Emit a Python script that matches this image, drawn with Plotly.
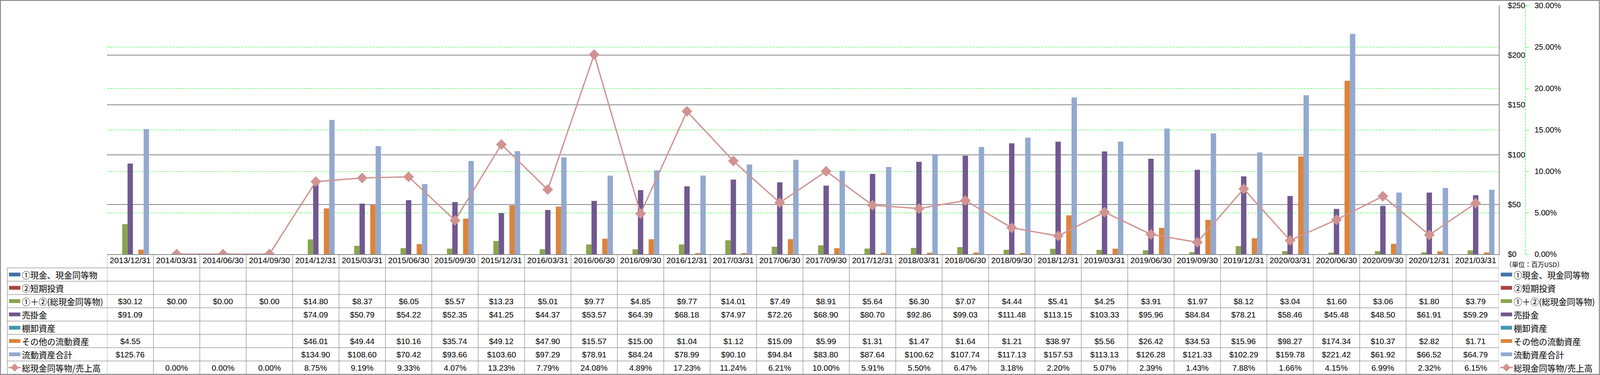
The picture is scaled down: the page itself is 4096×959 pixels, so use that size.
import plotly.graph_objects as go

# ---------------- data ----------------
dates = ["2013/12/31", "2014/03/31", "2014/06/30", "2014/09/30", "2014/12/31",
         "2015/03/31", "2015/06/30", "2015/09/30", "2015/12/31",
         "2016/03/31", "2016/06/30", "2016/09/30", "2016/12/31",
         "2017/03/31", "2017/06/30", "2017/09/30", "2017/12/31",
         "2018/03/31", "2018/06/30", "2018/09/30", "2018/12/31",
         "2019/03/31", "2019/06/30", "2019/09/30", "2019/12/31",
         "2020/03/31", "2020/06/30", "2020/09/30", "2020/12/31", "2021/03/31"]
N = None
cash = [N] * 30
short_inv = [N] * 30
total_cash = [30.12, 0.00, 0.00, 0.00, 14.80, 8.37, 6.05, 5.57, 13.23, 5.01,
              9.77, 4.85, 9.77, 14.01, 7.49, 8.91, 5.64, 6.30, 7.07, 4.44,
              5.41, 4.25, 3.91, 1.97, 8.12, 3.04, 1.60, 3.06, 1.80, 3.79]
receivables = [91.09, N, N, N, 74.09, 50.79, 54.22, 52.35, 41.25, 44.37,
               53.57, 64.39, 68.18, 74.97, 72.26, 68.90, 80.70, 92.86, 99.03, 111.48,
               113.15, 103.33, 95.96, 84.84, 78.21, 58.46, 45.48, 48.50, 61.91, 59.29]
inventory = [N] * 30
other_ca = [4.55, N, N, N, 46.01, 49.44, 10.16, 35.74, 49.12, 47.90,
            15.57, 15.00, 1.04, 1.12, 15.09, 5.99, 1.31, 1.47, 1.64, 1.21,
            38.97, 5.56, 26.42, 34.53, 15.96, 98.27, 174.34, 10.37, 2.82, 1.71]
total_ca = [125.76, N, N, N, 134.90, 108.60, 70.42, 93.66, 103.60, 97.29,
            78.91, 84.24, 78.99, 90.10, 94.84, 83.80, 87.64, 100.62, 107.74, 117.13,
            157.53, 113.13, 126.28, 121.33, 102.29, 159.78, 221.42, 61.92, 66.52, 64.79]
cash_sales_pct = [N, 0.00, 0.00, 0.00, 8.75, 9.19, 9.33, 4.07, 13.23, 7.79,
                  24.08, 4.89, 17.23, 11.24, 6.21, 10.00, 5.91, 5.50, 6.47, 3.18,
                  2.20, 5.07, 2.39, 1.43, 7.88, 1.66, 4.15, 6.99, 2.32, 6.15]

names = ["①現金、現金同等物", "②短期投資", "①＋②(総現金同等物)", "売掛金",
         "棚卸資産", "その他の流動資産", "流動資産合計", "総現金同等物/売上高"]
colors = ["#4572A7", "#AA4643", "#89A54E", "#71588F", "#4198AF", "#DB843D", "#93A9CF", "#D19392"]
unit_label = "（単位：百万USD）"

# ---------------- geometry (reference px -> figure) ----------------
FW, FH = 4096, 959
S = FW / 5492
X_L, X_R, X_Y2 = 367.5, 5145.5, 5236.5
Y_T, Y_B = 19.0, 872.0
HEAD_BOT, ROW_H = 919.0, 45.6
GRAY = "#878787"
NUMFONT = "Liberation Sans"
JPFONT = "Noto Sans CJK JP"


def px(X):
    return (X - X_L) / (X_Y2 - X_L)


def py(Y):
    return (Y_B - Y) / (Y_B - Y_T)


def row_c(k):
    return HEAD_BOT + ROW_H * (k + 0.5)


fig = go.Figure()

bar_data = [cash, short_inv, total_cash, receivables, inventory, other_ca, total_ca]
for nm, vals, col in zip(names[:7], bar_data, colors[:7]):
    fig.add_bar(x=dates, y=vals, name=nm, marker=dict(color=col, line=dict(width=0)))

fig.add_scatter(x=dates, y=[None if v is None else v / 100 for v in cash_sales_pct],
                name=names[7], yaxis="y2", mode="lines+markers",
                line=dict(color=colors[7], width=3.4),
                marker=dict(symbol="diamond", size=21, color=colors[7]))

shapes = []
annos = []

# outer border
shapes.append(dict(type="rect", xref="paper", yref="paper",
                   x0=px(1.5), x1=px(5490.5), y0=py(1.5), y1=py(1284.5),
                   line=dict(color=GRAY, width=2.4), layer="above"))
# secondary axis dashed line
shapes.append(dict(type="line", xref="paper", yref="y2", x0=1, x1=1, y0=0, y1=0.30,
                   line=dict(color="#00FF00", width=1.2, dash="5px,3px")))
# table horizontal lines
for k in range(8):
    Y = HEAD_BOT + ROW_H * k
    shapes.append(dict(type="line", xref="paper", yref="paper",
                       x0=px(25), x1=px(X_R), y0=py(Y), y1=py(Y),
                       line=dict(color=GRAY, width=1.2)))
# left legend column border
shapes.append(dict(type="line", xref="paper", yref="paper",
                   x0=px(25), x1=px(25), y0=py(HEAD_BOT), y1=py(1284.5),
                   line=dict(color=GRAY, width=1.2)))
# column dividers (on the category axis)
for i in range(len(dates) + 1):
    shapes.append(dict(type="line", xref="x", yref="paper",
                       x0=i - 0.5, x1=i - 0.5, y0=py(Y_B), y1=py(1284.5),
                       line=dict(color=GRAY, width=1.2)))

# table values
row_vals = [cash, short_inv, total_cash, receivables, inventory, other_ca, total_ca, cash_sales_pct]
for k, vals in enumerate(row_vals):
    for d, v in zip(dates, vals):
        if v is None:
            continue
        txt = f"{v:.2f}%" if k == 7 else f"${v:,.2f}"
        annos.append(dict(x=d, xref="x", y=py(row_c(k)), yref="paper", text=txt,
                          showarrow=False, xanchor="center", yanchor="middle",
                          font=dict(family=NUMFONT, size=20.5, color="#000000")))


# legends (left in table, right beside axes)
def legend_entry(k, sx0, sx1, tx):
    yc = py(row_c(k))
    if k < 7:
        h = 6.5 / (Y_B - Y_T)
        shapes.append(dict(type="rect", xref="paper", yref="paper",
                           x0=px(sx0), x1=px(sx1), y0=yc - h, y1=yc + h,
                           fillcolor=colors[k], line=dict(width=0)))
    else:
        shapes.append(dict(type="line", xref="paper", yref="paper",
                           x0=px(sx0 - 2), x1=px(sx1 + 2), y0=yc, y1=yc,
                           line=dict(color=colors[7], width=3.4)))
        cx = (sx0 + sx1) / 2
        dx = 14 / (X_Y2 - X_L)
        dy = 14 / (Y_B - Y_T)
        c = px(cx)
        shapes.append(dict(type="path", xref="paper", yref="paper",
                           path=f"M {c - dx} {yc} L {c} {yc + dy} L {c + dx} {yc} L {c} {yc - dy} Z",
                           fillcolor=colors[7], line=dict(width=0)))
    annos.append(dict(x=px(tx), xref="paper", y=yc, yref="paper", text=names[k],
                      showarrow=False, xanchor="left", yanchor="middle",
                      font=dict(family=JPFONT, size=21.5, color="#000000")))


for k in range(8):
    legend_entry(k, 31, 70, 73)
    legend_entry(k, 5152, 5191, 5194)

annos.append(dict(x=px(5166), xref="paper", y=py(907), yref="paper", text=unit_label,
                  showarrow=False, xanchor="left", yanchor="middle",
                  font=dict(family=JPFONT, size=16.5, color="#000000")))

fig.update_layout(
    width=FW, height=FH,
    margin=dict(l=X_L * S, r=FW - X_Y2 * S, t=Y_T * S, b=FH - Y_B * S, pad=0),
    paper_bgcolor="white", plot_bgcolor="white",
    barmode="group", bargap=0.19, bargroupgap=0,
    showlegend=False,
    xaxis=dict(type="category", categoryorder="array", categoryarray=dates,
               domain=[0, (X_R - X_L) / (X_Y2 - X_L)], range=[-0.5, len(dates) - 0.5],
               showgrid=False, showline=True, linecolor=GRAY, linewidth=1.5,
               ticks="", tickangle=0, automargin=False, ticklabelstandoff=-4,
               tickfont=dict(family=NUMFONT, size=21, color="#000000"), zeroline=False),
    yaxis=dict(side="right", anchor="x", range=[0, 250], dtick=50, tickprefix="$",
               showgrid=True, gridcolor=GRAY, gridwidth=1.5, zeroline=False,
               showline=True, linecolor=GRAY, linewidth=1.5, ticks="",
               ticklabelstandoff=17, automargin=False,
               tickfont=dict(family=NUMFONT, size=20, color="#000000")),
    yaxis2=dict(overlaying="y", anchor="free", position=1, side="right",
                range=[0, 0.30], dtick=0.05, tickformat=".2%",
                showgrid=True, gridcolor="#00FF00", gridwidth=1.1, griddash="5px,3px",
                zeroline=False, showline=False, ticks="outside", ticklen=7.5,
                tickcolor="#00FF00", tickwidth=1.1, ticklabelstandoff=11, automargin=False,
                tickfont=dict(family=NUMFONT, size=20, color="#000000")),
    shapes=shapes, annotations=annos,
)

fig.write_html("out.html", config={"displayModeBar": False},
               post_script="document.body.style.margin='0px';document.body.style.overflow='hidden';")
